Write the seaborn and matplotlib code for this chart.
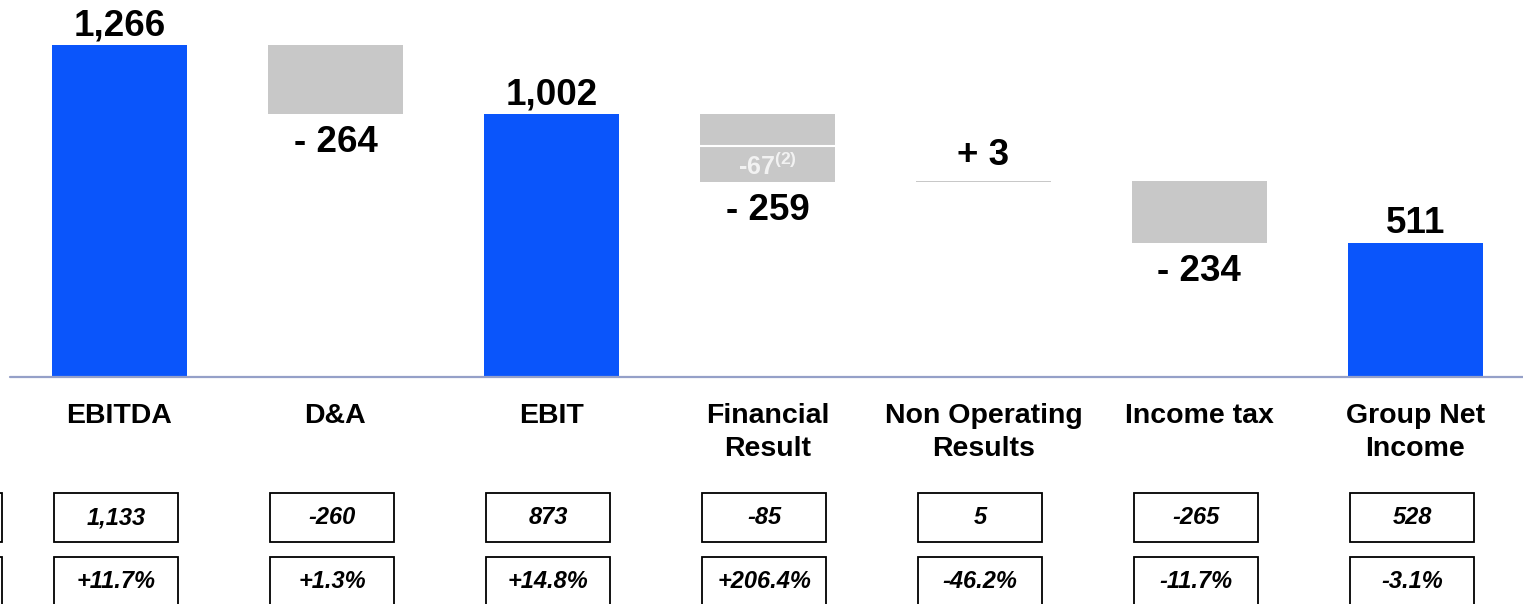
import numpy as np
import pandas as pd
import seaborn as sns
import matplotlib.pyplot as plt
from matplotlib.patches import Rectangle
from matplotlib import transforms

sns.set_style("white")
plt.rcParams['font.family'] = ['Liberation Sans', 'DejaVu Sans']
plt.rcParams['text.color'] = 'black'
plt.rcParams['xtick.color'] = 'black'
plt.rcParams['mathtext.fontset'] = 'custom'
plt.rcParams['mathtext.rm'] = 'Liberation Sans:bold'
plt.rcParams['mathtext.bf'] = 'Liberation Sans:bold'

# Data
categories = ["EBITDA", "D&A", "EBIT", "Financial\nResult",
              "Non Operating\nResults", "Income tax", "Group Net\nIncome"]
values = [1266, -264, 1002, -259, 3, -234, 511]
is_total = [True, False, True, False, False, False, True]
value_labels = ["1,266", "- 264", "1,002", "- 259", "+ 3", "- 234", "511"]
prior_year = ["1,133", "-260", "873", "-85", "5", "-265", "528"]
change_pct = ["+11.7%", "+1.3%", "+14.8%", "+206.4%", "-46.2%", "-11.7%", "-3.1%"]
fin_upper = -122          # upper slice of the financial result bar
fin_note = r"-67$^{\mathbf{(2)}}$"

BLUE = "#0a55fb"
GREY = "#c8c8c8"

# waterfall extents
tops, lows = [], []
running = 0
for v, tot in zip(values, is_total):
    if tot:
        running = v
        tops.append(v)
        lows.append(0)
    else:
        start = running
        running = running + v
        tops.append(max(start, running))
        lows.append(min(start, running))

df = pd.DataFrame({"cat": categories, "top": tops, "low": lows})
palette = [BLUE if t else GREY for t in is_total]

fig = plt.figure(figsize=(15.23, 6.04), dpi=100)
ax = fig.add_axes([0, 1 - 377 / 604, 1, 377 / 604])

sns.barplot(data=df, x="cat", y="top", hue="cat", palette=palette, width=0.625,
            saturation=1, legend=False, linewidth=0, errorbar=None, ax=ax)
sns.barplot(data=df, x="cat", y="low", color="white", width=0.625,
            saturation=1, linewidth=0, errorbar=None, ax=ax)

ax.set_xlim(-0.553, 6.498)
ax.set_ylim(0, 1437)
for s in ax.spines.values():
    s.set_visible(False)
ax.set_yticks([])
ax.set_xlabel("")
ax.set_ylabel("")
ax.axhline(0, xmin=10 / 1523, color="#95a0c8", lw=1.6, zorder=5, clip_on=False)

ax.tick_params(axis="x", length=0, pad=18.5, colors="black")
for lbl in ax.get_xticklabels():
    lbl.set_fontsize(20.5)
    lbl.set_fontweight("bold")
    lbl.set_linespacing(1.36)

# value labels
for i, (lab, v, tot) in enumerate(zip(value_labels, values, is_total)):
    if tot:
        ax.annotate(lab, (i, tops[i]), xytext=(0, 7), textcoords="offset points",
                    ha="center", va="baseline", fontsize=26.5, fontweight="bold")
    elif v > 0:
        ax.annotate(lab, (i, tops[i]), xytext=(0, 11.5), textcoords="offset points",
                    ha="center", va="baseline", fontsize=26.5, fontweight="bold")
    else:
        ax.annotate(lab, (i, lows[i]), xytext=(0, -8), textcoords="offset points",
                    ha="center", va="top", fontsize=26.5, fontweight="bold")

# split inside the financial result bar
fi = 3
split = tops[fi] + fin_upper
ax.hlines(split, fi - 0.3125, fi + 0.3125, color="white", lw=1.5, zorder=3)
ax.text(fi, (split + lows[fi]) / 2 - 8, fin_note, ha="center", va="center",
        color="#f2f2f2", fontsize=18, fontweight="bold", zorder=4)

# comparison boxes under the chart
trans = transforms.blended_transform_factory(ax.transData, fig.transFigure)
box_w = 124 / 216
box_h = 49 / 604
rows = [(1 - 542 / 604, prior_year), (1 - 606 / 604, change_pct)]
for y0, texts in rows:
    # cut-off box at the left edge
    ax.add_patch(Rectangle((-1.2, y0), 0.656, box_h, transform=trans, fill=False,
                           edgecolor="black", lw=1.3, clip_on=False))
    for i, t in enumerate(texts):
        cx = i - 0.015
        ax.add_patch(Rectangle((cx - box_w / 2, y0), box_w, box_h, transform=trans,
                               fill=False, edgecolor="black", lw=1.3, clip_on=False))
        ax.text(cx, y0 + box_h / 2, t, transform=trans, ha="center", va="center",
                fontsize=17, fontweight="bold", fontstyle="italic")

fig.savefig("out.png", dpi=100)
